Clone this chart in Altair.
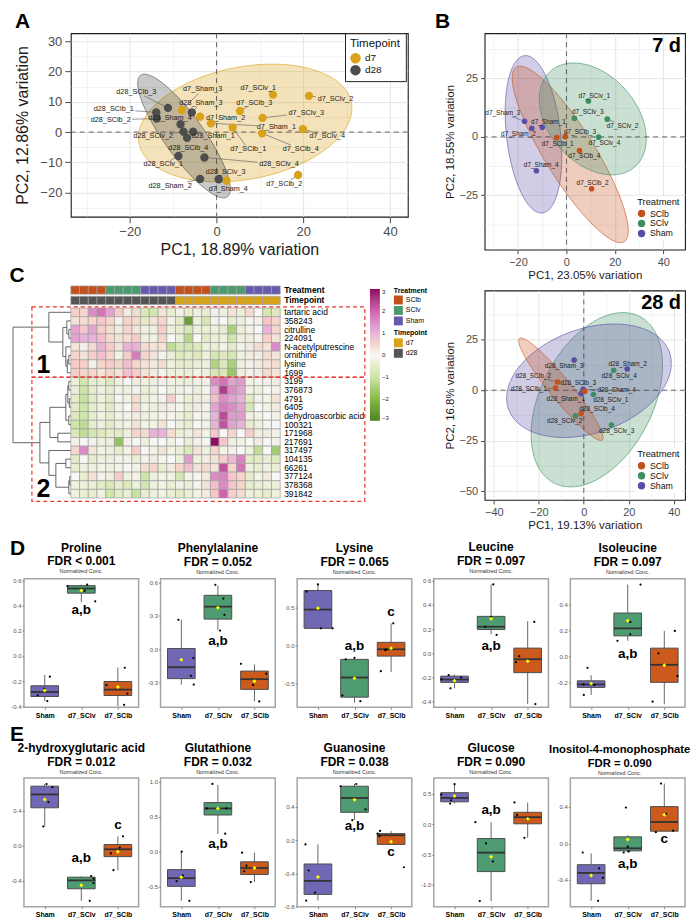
import numpy as np
import pandas as pd
import altair as alt

FONT = "Liberation Sans"

# ------------------------------------------------------------------ colours
TP_DOMAIN = ["d7", "d28"]
TP_COLORS = ["#D9A21B", "#4D4D4D"]
TRT_DOMAIN = ["SClb", "SClv", "Sham"]
TRT_COLORS = ["#C4501C", "#3E8E60", "#5A4DA6"]
TRT_ANNOT = ["#C4501C", "#4A9A6E", "#6659B0"]
TP_ANNOT = ["#D9A21B", "#555555"]

# ------------------------------------------------------------------ panel A (all samples)
A_sample = ["d7_Sham_1", "d7_Sham_2", "d7_Sham_3", "d7_Sham_4",
            "d7_SClv_1", "d7_SClv_2", "d7_SClv_3", "d7_SClv_4",
            "d7_SClb_1", "d7_SClb_2", "d7_SClb_3", "d7_SClb_4",
            "d28_Sham_1", "d28_Sham_2", "d28_Sham_3", "d28_Sham_4",
            "d28_SClv_1", "d28_SClv_2", "d28_SClv_3", "d28_SClv_4",
            "d28_SClb_1", "d28_SClb_2", "d28_SClb_3", "d28_SClb_4"]
A_pc1 = [-1.3, -3.8, -8.0, 2.3, 13.0, 21.3, 10.6, 19.9, 3.7, 18.8, 5.4, 10.5,
         -5.4, -3.8, -5.7, -8.3, -8.8, -7.6, 0.5, -2.8, -13.9, -13.8, -11.2, -6.8]
A_pc2 = [2.9, 5.1, 7.3, -16.1, 12.4, 12.0, 4.7, 1.0, 1.5, -14.2, 7.0, -0.4,
         0.1, -15.5, 6.5, 2.6, -7.9, 0.1, -15.6, -8.4, 6.5, 4.5, 8.0, -1.9]
A_lab_x = [13.8, 2.1, -3.2, 2.7, 9.6, 27.4, 20.7, 25.5, 7.3, 15.6, 8.7, 19.4,
           -0.8, -10.7, -3.6, -10.7, -12.3, -14.6, 2.1, 14.4, -23.7, -24.4, -18.5, -6.5]
A_lab_y = [1.8, 4.5, 14.1, -18.8, 14.6, 10.8, 6.4, -1.3, -5.6, -17.2, 9.7, -5.6,
           -1.3, -17.8, 9.7, 4.5, -10.7, -1.3, -13.1, -10.6, 7.6, 4.0, 13.3, -5.4]
# confidence ellipses: centre and two conjugate semi-axis vectors (data units)
A_ell_grp = ["d7", "d28"]
A_ell_cx = [6.6, -7.5]
A_ell_cy = [3.0, -1.3]
A_ell_u = [(24.1, 1.0), (10.0, -20.1)]
A_ell_v = [(4.95, 19.45), (3.75, 3.83)]

# ------------------------------------------------------------------ panel B, 7 d
B7_sample = ["d7_Sham_1", "d7_Sham_2", "d7_Sham_3", "d7_Sham_4",
             "d7_SClv_1", "d7_SClv_2", "d7_SClv_3", "d7_SClv_4",
             "d7_SClb_1", "d7_SClb_2", "d7_SClb_3", "d7_SClb_4"]
B7_pc1 = [-10.0, -14.3, -17.3, -12.4, 9.1, 16.9, 3.3, 13.3, -4.0, 10.4, -0.5, 5.4]
B7_pc2 = [4.1, 3.7, 6.7, -14.5, 15.4, 7.6, 8.0, -0.1, -0.3, -22.2, 0.1, -5.9]
B7_lab_x = [-7.4, -19.8, -26.3, -10.4, 11.5, 23.2, 8.8, 15.7, -3.6, 10.8, 5.6, 7.4]
B7_lab_y = [6.5, 1.2, 10.1, -12.1, 17.6, 4.8, 10.8, -2.7, -3.1, -19.8, 2.3, -8.1]
B7_ell_grp = ["Sham", "SClb", "SClv"]
B7_ell_cx = [-13.6, 1.6, 10.9]
B7_ell_cy = [1.1, -7.5, 7.7]
B7_ell_u = [(3.7, -33.7), (22.3, -37.4), (22.1, -8.5)]
B7_ell_v = [(11.1, 1.3), (8.8, 5.6), (0.0, 22.4)]

# ------------------------------------------------------------------ panel B, 28 d
B28_sample = ["d28_Sham_1", "d28_Sham_2", "d28_Sham_3", "d28_Sham_4",
              "d28_SClv_1", "d28_SClv_2", "d28_SClv_3", "d28_SClv_4",
              "d28_SClb_1", "d28_SClb_2", "d28_SClb_3", "d28_SClb_4"]
B28_pc1 = [-1.2, 19.3, -4.3, -0.3, 4.3, -3.7, 12.3, 13.3, -12.6, -11.6, 0.4, -1.2]
B28_pc2 = [-1.6, 10.5, 14.9, 0.5, -2.1, -12.7, -17.2, 9.9, 1.1, 4.1, -0.5, -11.5]
B28_lab_x = [-8.0, 19.5, -8.8, 14.6, 12.0, -8.5, 14.6, 15.7, -24.4, -22.5, -2.5, 5.9]
B28_lab_y = [-4.4, 13.1, 12.0, 0.0, -4.6, -15.3, -20.2, 7.0, 0.5, 7.0, 3.6, -9.4]
B28_ell_grp = ["SClv", "Sham", "SClb"]
B28_ell_cx = [5.8, 2.3, -10.2]
B28_ell_cy = [-4.7, 4.7, 0.5]
B28_ell_u = [(29.2, 17.2), (36.6, 8.6), (18.4, -25.1)]
B28_ell_v = [(0.0, 39.5), (0.0, 26.7), (3.7, 3.4)]

# ------------------------------------------------------------------ panel C heatmap
HM_ROWS = ["tartaric acid", "358243", "citrulline", "224091", "N-acetylputrescine",
           "ornithine", "lysine", "1699", "3199", "376873", "4791", "6405",
           "dehydroascorbic acid", "100321", "171968", "217691", "317497", "104135",
           "66261", "377124", "378368", "391842"]
HM_TRT = ["SClb"] * 4 + ["SClv"] * 4 + ["Sham"] * 4 + ["SClb"] * 4 + ["SClv"] * 4 + ["Sham"] * 4
HM_TP = ["d28"] * 12 + ["d7"] * 12
HM_CLUSTER = [1] * 8 + [2] * 14
HM_VALUES = [
    [0.6, 0.5, 1.5, 1.8, 1.2, 0.6, 0.2, 0.4, -0.8, -0.9, 0.3, -0.5, 0.1, -0.5, -0.3, -0.5, 0.1, -0.3, 0.3, -0.4, 0.4, 0.0, -0.9, -0.7],
    [0.3, 0.4, 0.5, 0.7, 0.5, 0.1, 0.5, 0.4, -0.6, 0.3, 0.5, -0.2, -0.6, -2.5, -0.3, -0.8, 0.1, 0.0, -0.5, -0.3, -0.1, 0.1, 0.7, 0.5],
    [1.2, 0.7, 1.2, 0.6, 0.4, 0.2, 0.5, 0.3, -0.3, -0.3, 0.6, -0.3, -0.5, -0.8, -0.3, -0.4, -0.3, -0.5, -1.5, -0.4, 0.1, 0.0, 1.0, 0.5],
    [1.2, 1.0, 1.0, 0.8, 0.4, 0.3, 0.4, 0.6, -0.3, -0.3, 0.5, 0.0, -0.4, -1.3, 0.0, -0.6, -0.4, -0.3, -1.0, -0.3, 0.2, 0.1, 0.6, 0.3],
    [0.3, 0.1, 0.4, 1.0, 0.6, 0.3, 1.0, 1.0, 0.4, 0.3, 0.3, -1.2, -0.8, -0.9, -0.7, -0.3, -0.4, -0.2, -0.6, 0.1, 0.2, 0.4, 0.3, 1.5],
    [0.5, 0.3, 0.6, 0.8, 0.5, -0.2, 0.6, 1.7, 0.5, 0.3, 0.1, -0.4, -0.7, -0.6, -0.7, -0.3, -0.9, -0.7, -0.9, -0.3, 0.2, 0.2, 0.4, 0.3],
    [0.6, 0.6, 0.1, 0.5, 0.6, 0.5, 0.8, 0.5, 0.3, 0.2, 0.4, -0.3, -0.5, -0.5, -0.4, -0.3, -1.4, -0.7, -1.5, -0.3, 0.1, 0.2, 0.3, 0.4],
    [0.6, 0.5, 0.5, 0.3, 0.5, 0.3, 0.8, 0.6, 0.3, 0.2, 0.1, -0.3, -0.3, -0.4, -0.2, -0.3, -0.8, -0.8, -1.7, -0.3, 0.1, 0.2, 0.4, 0.3],
    [-0.4, -0.9, -0.5, -0.4, -0.7, -0.3, 0.0, 0.2, -0.3, -0.3, 0.1, -0.2, -0.3, -0.4, -0.2, 0.1, 1.5, 1.8, 1.2, 1.3, -0.2, -0.1, 0.1, 0.2],
    [-0.4, -1.0, -0.5, -0.3, -0.5, -0.2, -0.3, 0.1, -0.4, -0.3, 0.0, -0.3, -0.2, -0.1, -0.3, -0.1, 1.0, 2.5, 1.5, 1.2, -0.2, -0.3, 0.0, 0.1],
    [-0.6, -1.1, -0.6, -0.3, -0.6, -0.1, -0.2, 0.4, -0.3, -0.2, 0.1, 0.6, -0.1, -0.4, 0.2, -0.3, 0.8, 1.5, 1.2, 1.0, -0.6, 0.1, -0.2, 0.3],
    [-0.6, -1.0, -0.5, -0.3, -0.6, -0.2, 0.0, 0.4, -0.2, -0.3, 0.2, -0.2, -0.1, -0.4, 0.2, 0.1, 1.2, 1.7, 1.5, 1.2, -0.8, 0.0, -0.2, 0.2],
    [-0.7, -1.0, -0.5, -0.2, -0.5, -0.2, 0.1, 0.2, -0.3, -0.2, 0.1, -0.1, -0.3, -0.5, -0.1, 0.1, 1.0, 2.3, 1.3, 1.3, -0.3, -0.2, 0.0, 0.1],
    [-1.0, -1.2, -0.5, -0.3, -0.6, -0.3, -0.2, 0.3, -0.2, -0.2, 0.3, 0.0, -0.3, -0.5, 0.0, -0.2, 1.0, 2.2, 1.2, 1.0, -0.5, -0.3, -0.1, 0.0],
    [-0.8, -1.2, -0.9, -0.7, -0.5, -0.6, -0.3, 0.5, 0.4, 1.0, 1.0, 0.4, -0.4, -0.3, 0.3, -0.2, 0.7, 0.0, 0.5, 0.0, 0.6, -0.3, 0.2, 0.1],
    [0.1, 0.0, 0.1, -0.3, -0.3, -1.8, 0.1, 0.0, -0.3, 0.0, 0.0, -0.2, 0.0, -0.4, 0.1, 0.0, 3.0, 0.7, -0.3, -0.2, 0.0, 0.2, 0.0, 0.1],
    [0.5, 1.5, 0.3, -0.2, -0.3, -0.5, -0.2, 0.6, 0.0, -0.2, 0.3, -0.2, -0.4, -0.7, 0.3, -0.3, 0.5, -0.2, 0.1, 0.0, -0.3, -1.2, 0.0, -1.6],
    [-0.6, 0.0, -0.5, -0.3, -0.3, -0.2, 0.1, -0.4, -0.2, 0.2, -0.1, 0.0, -0.3, 1.3, -0.3, 0.2, 0.3, 0.6, 0.9, 1.6, -0.6, -0.6, -0.4, -0.7],
    [-0.5, -0.3, -0.3, -0.2, -0.3, -0.2, 0.0, -0.2, 0.4, 0.5, -0.5, 0.2, 0.5, 0.8, 0.3, 0.4, 0.3, 2.2, 0.5, 1.8, -0.3, -0.5, -0.3, -0.4],
    [0.0, -0.5, 0.3, 0.1, -0.3, 0.6, -0.3, -0.2, -1.0, -0.3, -0.2, -0.2, -0.9, -0.2, -0.1, 0.2, 1.5, 1.6, 0.7, 0.5, -0.5, -0.2, 0.2, 0.0],
    [-0.3, -0.3, -0.4, -0.6, -0.8, -0.5, -0.7, -0.3, -0.9, -0.3, -0.2, -0.4, -0.2, -0.4, -0.1, 0.3, 0.8, 1.5, 0.7, 0.5, -0.5, -0.4, -0.3, -0.4],
    [-0.3, -0.4, -0.5, -0.2, -1.0, -0.6, -0.4, -1.1, -0.5, -0.3, -0.2, -0.4, -0.6, -0.4, -0.2, 0.2, 0.7, 2.0, 0.6, 0.4, -0.3, -0.4, -0.5, -0.3],
]
# row dendrogram: (left node, right node, merge height in px); new nodes numbered from 22
HM_DEND = [(2, 3, 2), (1, 22, 4), (5, 6, 2), (24, 7, 3.5), (4, 25, 5), (23, 26, 8), (0, 27, 22),
           (8, 9, 2), (10, 11, 1.5), (29, 30, 3), (12, 13, 2), (31, 32, 5), (14, 15, 13), (33, 34, 21),
           (17, 18, 5), (19, 20, 1), (37, 21, 2), (36, 38, 15), (16, 39, 22), (35, 40, 31), (28, 41, 58)]
HM_SCALE_STOPS = [-3, -2, -1, 0, 1, 2, 3]
HM_SCALE_COLORS = ["#4E8420", "#86BA49", "#CDE6A9", "#F7F7F5", "#E8B2D9", "#CF63AE", "#8E0C62"]

# ------------------------------------------------------------------ panels D / E box plots
BOX_GROUPS = ["Sham", "d7_SClv", "d7_SClb"]
BOX_COLORS = ["#7168B5", "#4E9B72", "#CB5A1C"]
BOX_NAMES = ["Proline", "Phenylalanine", "Lysine", "Leucine", "Isoleucine",
             "2-hydroxyglutaric acid", "Glutathione", "Guanosine", "Glucose", "Inositol-4-monophosphate"]
BOX_FDR = ["FDR < 0.001", "FDR = 0.052", "FDR = 0.065", "FDR = 0.097", "FDR = 0.097",
           "FDR = 0.012", "FDR = 0.032", "FDR = 0.038", "FDR = 0.090", "FDR = 0.090"]
# (low whisker, Q1, median, Q3, high whisker, mean) for Sham, d7_SClv, d7_SClb
BOX_STATS = [
    [(-0.36, -0.324, -0.288, -0.238, -0.151, -0.275), (0.43, 0.502, 0.539, 0.562, 0.57, 0.523), (-0.40, -0.316, -0.269, -0.204, -0.092, -0.248)],
    [(-0.318, -0.265, -0.162, 0.006, 0.265, -0.094), (0.171, 0.271, 0.383, 0.485, 0.574, 0.374), (-0.47, -0.362, -0.27, -0.197, -0.138, -0.288)],
    [(0.227, 0.227, 0.473, 0.723, 0.805, 0.49), (-0.75, -0.677, -0.419, -0.181, -0.151, -0.43), (-0.345, -0.138, -0.048, 0.043, 0.292, -0.035)],
    [(-0.29, -0.241, -0.217, -0.189, -0.176, -0.228), (0.157, 0.197, 0.22, 0.306, 0.57, 0.287), (-0.42, -0.16, -0.049, 0.043, 0.266, -0.065)],
    [(-0.297, -0.239, -0.216, -0.188, -0.145, -0.208), (0.122, 0.16, 0.218, 0.337, 0.557, 0.278), (-0.37, -0.2, -0.064, 0.065, 0.198, -0.068)],
    [(0.219, 0.434, 0.587, 0.682, 0.706, 0.53), (-0.634, -0.496, -0.4, -0.363, -0.353, -0.456), (-0.282, -0.127, -0.042, 0.012, 0.106, -0.071)],
    [(-0.702, -0.496, -0.379, -0.257, 0.0, -0.365), (0.253, 0.524, 0.618, 0.702, 0.955, 0.618), (-0.435, -0.327, -0.234, -0.145, -0.014, -0.234)],
    [(-0.726, -0.652, -0.49, -0.287, -0.052, -0.444), (0.242, 0.334, 0.506, 0.647, 0.674, 0.486), (-0.052, -0.052, 0.059, 0.078, 0.11, -0.02)],
    [(0.34, 0.368, 0.433, 0.519, 0.66, 0.465), (-1.27, -0.784, -0.471, -0.238, 0.032, -0.541), (-0.227, 0.005, 0.114, 0.195, 0.357, 0.086)],
    [(-0.63, -0.443, -0.324, -0.234, -0.111, -0.353), (-0.1, -0.082, -0.054, 0.072, 0.09, 0.043), (0.134, 0.134, 0.235, 0.404, 0.657, 0.314)],
]
BOX_POINTS = [
    [[-0.165, -0.26, -0.314, -0.36], [0.559, 0.57, 0.52, 0.437], [-0.094, -0.233, -0.30, -0.39]],
    [[0.265, -0.08, -0.24, -0.318], [0.58, 0.456, 0.309, 0.168], [-0.132, -0.22, -0.322, -0.47]],
    [[0.805, 0.71, 0.227, 0.227], [-0.18, -0.16, -0.655, -0.73], [0.292, -0.06, -0.05, -0.336]],
    [[-0.18, -0.29, -0.2, -0.215], [0.57, 0.22, 0.152, 0.30], [0.26, -0.024, -0.073, -0.42]],
    [[-0.087, -0.216, -0.22, -0.297], [0.557, 0.268, 0.172, 0.122], [0.198, 0.025, -0.15, -0.35]],
    [[0.706, 0.67, 0.5, 0.219], [-0.35, -0.38, -0.43, -0.634], [0.106, -0.023, -0.09, -0.282]],
    [[0.0, -0.34, -0.42, -0.702], [0.969, 0.618, 0.62, 0.257], [-0.014, -0.2, -0.28, -0.435]],
    [[-0.052, -0.365, -0.632, -0.726], [0.647, 0.674, 0.368, 0.24], [0.11, 0.078, 0.047, -0.326]],
    [[0.66, 0.487, 0.394, 0.34], [0.032, -0.32, -0.617, -1.27], [0.357, 0.151, 0.07, -0.227]],
    [[-0.1, -0.273, -0.378, -0.63], [0.393, -0.036, -0.1, -0.088], [0.657, 0.324, 0.123, 0.14]],
]
BOX_JITTER = [
    [[0.14, -0.01, -0.19, 0.07], [-0.38, 0.16, 0.09, 0.38], [0.19, -0.31, 0.26, 0.17]],
    [[-0.08, 0.33, 0.26, 0.34], [-0.07, 0.15, 0.18, 0.06], [-0.37, 0.32, -0.04, 0.13]],
    [[0.0, -0.31, 0.08, 0.4], [-0.24, 0.0, -0.33, 0.16], [0.06, -0.16, -0.13, -0.28]],
    [[-0.16, -0.11, 0.18, -0.36], [0.06, -0.16, 0.15, 0.0], [0.18, -0.23, -0.32, 0.21]],
    [[-0.1, -0.21, 0.09, -0.2], [0.35, 0.07, 0.07, -0.28], [0.29, -0.16, 0.36, -0.32]],
    [[0.05, 0.21, 0.1, -0.04], [0.27, 0.34, 0.33, 0.23], [0.14, 0.05, -0.19, -0.12]],
    [[0.01, 0.04, -0.13, 0.22], [-0.15, -0.3, 0.23, 0.2], [-0.34, -0.22, -0.28, -0.1]],
    [[-0.34, -0.25, -0.08, -0.32], [-0.38, 0.05, 0.3, -0.06], [-0.3, -0.37, -0.32, 0.35]],
    [[0.0, -0.36, -0.09, -0.12], [-0.43, -0.14, 0.05, -0.31], [-0.36, -0.29, -0.02, -0.09]],
    [[-0.23, 0.22, 0.32, 0.19], [-0.05, 0.0, -0.11, 0.03], [-0.09, 0.05, -0.23, 0.24]],
]
BOX_LETTERS = [
    [(1, "a,b", 0.369)], [(1, "a,b", 0.077)], [(1, "a,b", -0.01), (2, "c", 0.443)],
    [(1, "a,b", 0.057)], [(1, "a,b", 0.02)], [(1, "a,b", -0.139), (2, "c", 0.237)],
    [(1, "a,b", 0.103)], [(1, "a,b", 0.165), (2, "c", -0.138)], [(1, "a,b", 0.232)],
    [(1, "a,b", -0.227), (2, "c", 0.043)],
]
BOX_YDOM = [(-0.41, 0.618), (-0.523, 0.635), (-0.81, 0.879), (-0.447, 0.618), (-0.393, 0.603),
            (-0.702, 0.775), (-0.787, 1.052), (-0.8, 0.745), (-1.364, 0.76), (-0.695, 0.717)]
BOX_YTICKS = [[-0.4, -0.2, 0.0, 0.2, 0.4, 0.6], [-0.3, 0.0, 0.3, 0.6], [-0.5, 0.0, 0.5],
              [-0.4, -0.2, 0.0, 0.2, 0.4, 0.6], [-0.2, 0.0, 0.2, 0.4], [-0.4, 0.0, 0.4],
              [-0.5, 0.0, 0.5, 1.0], [-0.8, -0.4, 0.0, 0.4], [-1.0, -0.5, 0.0, 0.5], [-0.4, 0.0, 0.4]]
BOX_TITLE_FS = [12, 12, 12, 12, 12, 12, 12, 12, 12, 11.3]
BOX_TITLE_DX = [0, 0, 0, 0, 0, 0, 0, 0, 0, -8]

# ------------------------------------------------------------------ layout (px)
A_W, A_H = 338, 184
B_W, B7_H, B28_H = 201, 217, 210
C_COLW, C_ROWH = 8.75, 8.663
C_XDOM = (0.0, 34.0)
C_YDOM = (-2.6, 22.45)
P_W, P_H, P_SP = 115, 129, 22
BOX_HALF = 0.378
W_SPACER_TOP, W_SPACER_D, W_SPACER_E = 1, 1, 1
RES = dict(color="independent", fill="independent", stroke="independent")


# ================================================================== helpers
def ellipse_frame(groups, cxs, cys, us, vs, n=160):
    frames = []
    for g, cx, cy, (ux, uy), (vx, vy) in zip(groups, cxs, cys, us, vs):
        rx = np.hypot(ux, vx)
        phi = np.arctan2(vx, ux)
        s = np.linspace(0.0, np.pi, n)
        frames.append(pd.DataFrame({
            "egrp": g,
            "ex": cx + rx * np.cos(s),
            "ey1": cy + uy * np.cos(s + phi) + vy * np.sin(s + phi),
            "ey2": cy + uy * np.cos(phi - s) + vy * np.sin(phi - s)}))
    return pd.concat(frames, ignore_index=True)


def leader_frame(pts, sx, sy, cw, hh, minlen=4.0, r=3.0):
    rows = []
    for _, d in pts.iterrows():
        dxp = (d.px - d.lx) * sx
        dyp = (d.py - d.ly) * sy
        L = np.hypot(dxp, dyp)
        if L < 1e-6:
            continue
        hw = len(d["sample"]) * cw / 2 + 1.5
        tx = hw / abs(dxp) if abs(dxp) > 1e-9 else np.inf
        ty = hh / abs(dyp) if abs(dyp) > 1e-9 else np.inf
        t = min(tx, ty)
        if t >= 1 or L * (1 - t) - r < minlen:
            continue
        fe = 1 - r / L
        rows.append({"x": d.lx + t * (d.px - d.lx), "y": d.ly + t * (d.py - d.ly),
                     "x2": d.lx + fe * (d.px - d.lx), "y2": d.ly + fe * (d.py - d.ly)})
    return pd.DataFrame(rows, columns=["x", "y", "x2", "y2"])


def pc_axis(vals, maj, title, tick_fs, title_fs, tpad, tick=5, lpad=3):
    cond = f"abs(datum.value % {maj}) < 1e-6"
    return alt.Axis(values=vals, title=title, grid=True,
                    labelExpr=f"({cond}) ? datum.label : ''",
                    tickOpacity={"condition": {"test": cond, "value": 1}, "value": 0},
                    gridWidth={"condition": {"test": cond, "value": 0.9}, "value": 0.45},
                    gridColor="#E2E2E2", domain=False, tickColor="#333333", tickSize=tick,
                    tickWidth=0.9, labelFontSize=tick_fs, labelColor="#4D4D4D",
                    labelPadding=lpad, labelFlush=False, labelOverlap=False,
                    titleFontSize=title_fs, titleFontWeight="normal", titleColor="#1A1A1A",
                    titlePadding=tpad)


def pca_panel(samples, pc1, pc2, labx, laby, grp_of, cdom, ccol, ell, *, W, H, xdom, ydom,
              xvals, yvals, xmaj, ymaj, xtitle, ytitle, tick_fs, title_fs, lab_fs, pt_size,
              ell_op, legend, ltitle, sx, sy, cw, hh, tpx, tpy, tick, lpad, title=None, tag=None):
    pts = pd.DataFrame({"sample": samples, "px": pc1, "py": pc2, "lx": labx, "ly": laby})
    pts["grp"] = [grp_of(s) for s in samples]
    sc_x = alt.Scale(domain=list(xdom), nice=False, zero=False)
    sc_y = alt.Scale(domain=list(ydom), nice=False, zero=False)
    xax = pc_axis(xvals, xmaj, xtitle, tick_fs, title_fs, tpx, tick, lpad)
    yax = pc_axis(yvals, ymaj, ytitle, tick_fs, title_fs, tpy, tick, lpad)

    def X(f):
        return alt.X(f, type="quantitative", scale=sc_x, axis=xax)

    def Y(f):
        return alt.Y(f, type="quantitative", scale=sc_y, axis=yax, stack=None)

    ell_l = alt.Chart(ell).mark_area(strokeWidth=0.7, fillOpacity=ell_op, strokeOpacity=0.9).encode(
        x=X("ex"), y=Y("ey1"), y2=alt.Y2("ey2"),
        fill=alt.Fill("egrp:N", scale=alt.Scale(domain=cdom, range=ccol), legend=None),
        stroke=alt.Stroke("egrp:N", scale=alt.Scale(domain=cdom, range=ccol), legend=None))
    zero = pd.DataFrame({"z": [0.0]})
    vline = alt.Chart(zero).mark_rule(strokeDash=[5, 4], color="#444444", strokeWidth=0.8).encode(x=X("z"))
    hline = alt.Chart(zero).mark_rule(strokeDash=[5, 4], color="#444444", strokeWidth=0.8).encode(y=Y("z"))
    lead = leader_frame(pts, sx, sy, cw, hh)
    lead_l = alt.Chart(lead).mark_rule(color="#555555", strokeWidth=0.6).encode(
        x=X("x"), y=Y("y"), x2=alt.X2("x2"), y2=alt.Y2("y2"))
    pt_l = alt.Chart(pts).mark_circle(size=pt_size, opacity=1).encode(
        x=X("px"), y=Y("py"),
        color=alt.Color("grp:N", scale=alt.Scale(domain=cdom, range=ccol), legend=legend, title=ltitle))
    lab_l = alt.Chart(pts).mark_text(fontSize=lab_fs, color="#1A1A1A").encode(
        x=X("lx"), y=Y("ly"), text="sample:N")
    layers = [ell_l, vline, hline, lead_l, pt_l, lab_l]
    if tag is not None:
        layers.append(alt.Chart(pd.DataFrame({"t": [tag]})).mark_text(
            fontSize=20, fontWeight="bold", align="right", baseline="top", color="black").encode(
            x=alt.value(W - 4), y=alt.value(3), text="t:N"))
    props = dict(width=W, height=H, view=alt.ViewBackground(stroke="#1A1A1A", strokeWidth=1.1))
    if title is not None:
        props["title"] = title
    return alt.layer(*layers).resolve_scale(**RES).properties(**props)


def spacer(w):
    return alt.Chart(pd.DataFrame({"s": [0]})).mark_rule(opacity=0).encode(
        x=alt.value(0), x2=alt.value(w), y=alt.value(0)
    ).properties(width=w, height=1, view=alt.ViewBackground(strokeOpacity=0))


# ================================================================== panel A
ellA = ellipse_frame(A_ell_grp, A_ell_cx, A_ell_cy, A_ell_u, A_ell_v)
chartA = pca_panel(
    A_sample, A_pc1, A_pc2, A_lab_x, A_lab_y, lambda s: s.split("_")[0], TP_DOMAIN, TP_COLORS, ellA,
    W=A_W, H=A_H, xdom=(-33.6, 44.1), ydom=(-28.0, 32.7),
    xvals=[-30, -20, -10, 0, 10, 20, 30, 40], yvals=[-25, -20, -15, -10, -5, 0, 5, 10, 15, 20, 25, 30],
    xmaj=20, ymaj=10, xtitle="PC1, 18.89% variation", ytitle="PC2, 12.86% variation",
    tick_fs=13, title_fs=16, lab_fs=7.3, pt_size=70, ell_op=0.3,
    legend=alt.Legend(orient="none", legendX=275, legendY=0, fillColor="white", strokeColor="#222222",
                      padding=5, titleFontSize=11.5, titleFontWeight="normal", labelFontSize=10,
                      symbolSize=110, symbolType="circle", symbolStrokeWidth=0, rowPadding=1,
                      titlePadding=3, titleColor="#111111", labelColor="#111111"),
    ltitle="Timepoint", sx=4.35, sy=3.03, cw=4.0, hh=4.0, tpx=3, tpy=9, tick=6, lpad=3,
    title=alt.TitleParams("A", anchor="start", fontSize=21, fontWeight="bold", offset=1, color="black"))

# ================================================================== panel B
b_legend = dict(orient="none", fillColor="white", padding=2,
                titleFontSize=9.4, titleFontWeight="normal", labelFontSize=8.8, symbolSize=55,
                symbolType="circle", symbolStrokeWidth=0, rowPadding=0, titlePadding=2,
                titleColor="#111111", labelColor="#111111")
ellB7 = ellipse_frame(B7_ell_grp, B7_ell_cx, B7_ell_cy, B7_ell_u, B7_ell_v)
chartB7 = pca_panel(
    B7_sample, B7_pc1, B7_pc2, B7_lab_x, B7_lab_y, lambda s: s.split("_")[1], TRT_DOMAIN, TRT_COLORS, ellB7,
    W=B_W, H=B7_H, xdom=(-33.8, 49.0), ydom=(-48.3, 44.4),
    xvals=[-30, -20, -10, 0, 10, 20, 30, 40], yvals=[-37.5, -25, -12.5, 0, 12.5, 25, 37.5],
    xmaj=20, ymaj=25, xtitle="PC1, 23.05% variation", ytitle="PC2, 18.55% variation",
    tick_fs=11, title_fs=11.5, lab_fs=6.5, pt_size=32, ell_op=0.28,
    legend=alt.Legend(legendX=151, legendY=163, **b_legend), ltitle="Treatment",
    sx=2.425, sy=2.34, cw=3.6, hh=3.5, tpx=2, tpy=4, tick=4, lpad=3,
    title=alt.TitleParams("B", anchor="start", fontSize=21, fontWeight="bold", offset=1, dx=-9,
                          color="black"),
    tag="7 d")
ellB28 = ellipse_frame(B28_ell_grp, B28_ell_cx, B28_ell_cy, B28_ell_u, B28_ell_v)
chartB28 = pca_panel(
    B28_sample, B28_pc1, B28_pc2, B28_lab_x, B28_lab_y, lambda s: s.split("_")[1], TRT_DOMAIN, TRT_COLORS,
    ellB28, W=B_W, H=B28_H, xdom=(-44.1, 45.0), ydom=(-54.2, 49.3),
    xvals=[-40, -30, -20, -10, 0, 10, 20, 30, 40], yvals=[-50, -37.5, -25, -12.5, 0, 12.5, 25, 37.5],
    xmaj=20, ymaj=25, xtitle="PC1, 19.13% variation", ytitle="PC2, 16.8% variation",
    tick_fs=11, title_fs=11.5, lab_fs=6.5, pt_size=32, ell_op=0.28,
    legend=alt.Legend(legendX=151, legendY=158, **b_legend), ltitle="Treatment",
    sx=2.28, sy=2.03, cw=3.6, hh=3.5, tpx=2, tpy=4, tick=4, lpad=3, tag="28 d")

# ================================================================== panel C
n_rows, n_cols = len(HM_ROWS), len(HM_TRT)
hm = pd.DataFrame([{"c0": c, "c1": c + 1, "r0": r, "r1": r + 1, "value": HM_VALUES[r][c]}
                   for r in range(n_rows) for c in range(n_cols)])
ann = pd.DataFrame({"c0": range(n_cols), "c1": [c + 1 for c in range(n_cols)],
                    "Treatment": HM_TRT, "Timepoint": HM_TP})
ANN_Y = {"Treatment": (-2.55, -1.6), "Timepoint": (-1.35, -0.4)}
ann["t0"], ann["t1"] = ANN_Y["Treatment"]
ann["p0"], ann["p1"] = ANN_Y["Timepoint"]

# dendrogram segments from merge table
ypos = {i: i + 0.5 for i in range(n_rows)}
hpos = {i: 0.0 for i in range(n_rows)}
segs = []
nid = n_rows
for a, b, h in HM_DEND:
    xa, xb, xh = -hpos[a] / C_COLW, -hpos[b] / C_COLW, -h / C_COLW
    segs += [(xa, ypos[a], xh, ypos[a]), (xb, ypos[b], xh, ypos[b]), (xh, ypos[a], xh, ypos[b])]
    ypos[nid] = (ypos[a] + ypos[b]) / 2
    hpos[nid] = h
    nid += 1
dend = pd.DataFrame(segs, columns=["x", "y", "x2", "y2"])

# cluster boxes from cluster membership
BOX_X = (-4.46, 33.7)
cl_rows = []
clusters = sorted(set(HM_CLUSTER))
for k, cl in enumerate(clusters):
    rows = [i for i, v in enumerate(HM_CLUSTER) if v == cl]
    y0 = rows[0] - (0.12 if k == 0 else 0.0)
    y1 = rows[-1] + 1 + (0.38 if k == len(clusters) - 1 else 0.02)
    cl_rows.append({"x0": BOX_X[0], "x1": BOX_X[1], "y0": y0, "y1": y1, "lab": str(cl),
                    "lx": BOX_X[0] + 1.32, "ly": y1 - 0.55})
clb = pd.DataFrame(cl_rows)

cxs = alt.Scale(domain=list(C_XDOM), nice=False, zero=False)
cys = alt.Scale(domain=list(C_YDOM), nice=False, zero=False, reverse=True)


def CX(f):
    return alt.X(f, type="quantitative", scale=cxs, axis=None)


def CY(f):
    return alt.Y(f, type="quantitative", scale=cys, axis=None)


heat = alt.Chart(hm).mark_rect(stroke="#A0A0A0", strokeWidth=0.7).encode(
    x=CX("c0"), x2="c1", y=CY("r0"), y2="r1",
    color=alt.Color("value:Q", scale=alt.Scale(domain=HM_SCALE_STOPS, range=HM_SCALE_COLORS),
                    legend=alt.Legend(orient="none", legendX=300, legendY=3.5, title=None,
                                      direction="vertical", gradientLength=132, gradientThickness=10,
                                      values=HM_SCALE_STOPS, labelFontSize=6, gradientStrokeWidth=0,
                                      labelColor="#222222")))
ann_trt = alt.Chart(ann).mark_rect(stroke="#A0A0A0", strokeWidth=0.7).encode(
    x=CX("c0"), x2="c1", y=CY("t0"), y2="t1",
    color=alt.Color("Treatment:N", scale=alt.Scale(domain=TRT_DOMAIN, range=TRT_ANNOT),
                    legend=alt.Legend(orient="none", legendX=324, legendY=1, title="Treatment",
                                      titleFontSize=7, titleFontWeight="bold", labelFontSize=7,
                                      symbolType="square", symbolSize=80, symbolStrokeWidth=0,
                                      rowPadding=1.5, titlePadding=2, labelOffset=3)))
ann_tp = alt.Chart(ann).mark_rect(stroke="#A0A0A0", strokeWidth=0.7).encode(
    x=CX("c0"), x2="c1", y=CY("p0"), y2="p1",
    color=alt.Color("Timepoint:N", scale=alt.Scale(domain=TP_DOMAIN, range=TP_ANNOT),
                    legend=alt.Legend(orient="none", legendX=324, legendY=44, title="Timepoint",
                                      titleFontSize=7, titleFontWeight="bold", labelFontSize=7,
                                      symbolType="square", symbolSize=80, symbolStrokeWidth=0,
                                      rowPadding=1.5, titlePadding=2, labelOffset=3)))
ann_lab = alt.Chart(pd.DataFrame({"t": ["Treatment", "Timepoint"],
                                  "y": [sum(ANN_Y["Treatment"]) / 2, sum(ANN_Y["Timepoint"]) / 2],
                                  "x": [n_cols + 0.45] * 2})).mark_text(
    fontSize=8.5, fontWeight="bold", align="left", baseline="middle", color="black").encode(
    x=CX("x"), y=CY("y"), text="t:N")
row_lab = alt.Chart(pd.DataFrame({"t": HM_ROWS, "y": [i + 0.5 for i in range(n_rows)],
                                  "x": [n_cols + 0.45] * n_rows})).mark_text(
    fontSize=8.5, align="left", baseline="middle", color="black").encode(
    x=CX("x"), y=CY("y"), text="t:N")
dend_l = alt.Chart(dend).mark_rule(color="#555555", strokeWidth=0.9).encode(
    x=CX("x"), x2="x2", y=CY("y"), y2="y2")
clbox = alt.Chart(clb).mark_rect(fillOpacity=0, stroke="#E8352E", strokeDash=[4, 3], strokeWidth=1.2).encode(
    x=CX("x0"), x2="x1", y=CY("y0"), y2="y1")
cllab = alt.Chart(clb).mark_text(fontSize=25, fontWeight="bold", align="center", baseline="alphabetic",
                                 color="black").encode(x=CX("lx"), y=CY("ly"), text="lab:N")

chartC = alt.layer(heat, ann_trt, ann_tp, ann_lab, row_lab, dend_l, clbox, cllab).resolve_scale(
    color="independent").properties(
    width=(C_XDOM[1] - C_XDOM[0]) * C_COLW, height=(C_YDOM[1] - C_YDOM[0]) * C_ROWH,
    view=alt.ViewBackground(strokeOpacity=0),
    title=alt.TitleParams("C", anchor="start", fontSize=21, fontWeight="bold", offset=0, dx=-3,
                          color="black"))


# ================================================================== panels D / E
def box_panel(k):
    sd = pd.DataFrame(BOX_STATS[k], columns=["lo", "q1", "med", "q3", "hi", "mean"])
    sd["g"] = BOX_GROUPS
    sd["pos"] = [0, 1, 2]
    sd["xl"] = sd["pos"] - BOX_HALF
    sd["xr"] = sd["pos"] + BOX_HALF
    pts = pd.DataFrame([{"g": BOX_GROUPS[i], "val": v, "px": i + j}
                        for i in range(3) for v, j in zip(BOX_POINTS[k][i], BOX_JITTER[k][i])])
    lt = pd.DataFrame([{"pos": i, "txt": t, "ly": y} for i, t, y in BOX_LETTERS[k]])
    xs = alt.Scale(domain=[-0.568, 2.567], nice=False, zero=False)
    ys = alt.Scale(domain=list(BOX_YDOM[k]), nice=False, zero=False)
    lab_expr = "[" + ",".join(f"'{g}'" for g in BOX_GROUPS) + "][datum.value]"
    xax = alt.Axis(values=[0, 1, 2], labelExpr=lab_expr, grid=False, domain=False, title=None,
                   labelFontSize=7, labelFontWeight="bold", labelColor="black", tickSize=2,
                   tickColor="#888888", labelPadding=2, labelFlush=False)
    yax = alt.Axis(values=BOX_YTICKS[k], format=".1f", labelExpr="replace(datum.label, '\u2212', '-')",
                   grid=False, domain=False, title=None, labelFontSize=6, labelColor="#555555",
                   tickSize=2, tickColor="#888888", labelPadding=1, labelFlush=False)

    def X(f):
        return alt.X(f, type="quantitative", scale=xs, axis=xax)

    def Y(f):
        return alt.Y(f, type="quantitative", scale=ys, axis=yax)

    whisk = alt.Chart(sd).mark_rule(color="#555555", strokeWidth=0.9).encode(x=X("pos"), y=Y("lo"), y2="hi")
    box = alt.Chart(sd).mark_rect(stroke="#4D4D4D", strokeWidth=1).encode(
        x=X("xl"), x2="xr", y=Y("q1"), y2="q3",
        fill=alt.Fill("g:N", scale=alt.Scale(domain=BOX_GROUPS, range=BOX_COLORS), legend=None))
    med = alt.Chart(sd).mark_rule(color="#333333", strokeWidth=1.8).encode(x=X("xl"), x2="xr", y=Y("med"))
    dots = alt.Chart(pts).mark_circle(color="black", size=5, opacity=1).encode(x=X("px"), y=Y("val"))
    means = alt.Chart(sd).mark_point(shape="diamond", filled=True, color="#FFFF00", size=16,
                                     opacity=1).encode(x=X("pos"), y=Y("mean"))
    lets = alt.Chart(lt).mark_text(fontSize=13.5, fontWeight="bold", color="black").encode(
        x=X("pos"), y=Y("ly"), text="txt:N")
    return alt.layer(whisk, box, med, dots, means, lets).properties(
        width=P_W, height=P_H,
        view=alt.ViewBackground(stroke="#A5A5A5", strokeWidth=1.5),
        title=alt.TitleParams(text=[BOX_NAMES[k], BOX_FDR[k]], subtitle=["Normalized Conc."],
                              fontSize=BOX_TITLE_FS[k], fontWeight="bold", lineHeight=14,
                              subtitleFontSize=5.5, subtitleColor="#333333", subtitlePadding=1,
                              offset=2, anchor="middle", frame="group", color="black",
                              dx=BOX_TITLE_DX[k]))


def panel_row(ks, letter, wsp, letter_offset):
    inner = alt.hconcat(*[box_panel(k) for k in ks], spacing=P_SP, bounds="flush").properties(
        title=alt.TitleParams(letter, anchor="start", fontSize=21, fontWeight="bold",
                              offset=letter_offset, color="black")).resolve_scale(**RES)
    return alt.hconcat(spacer(wsp), inner, spacing=0).resolve_scale(**RES)


left_col = alt.vconcat(chartA, chartC, spacing=6).resolve_scale(**RES)
right_col = alt.vconcat(chartB7, chartB28, spacing=7).resolve_scale(**RES)
inner_top = alt.hconcat(left_col, right_col, spacing=6).resolve_scale(**RES)
top = alt.hconcat(spacer(W_SPACER_TOP), inner_top, spacing=0).resolve_scale(**RES)
rowD = panel_row([0, 1, 2, 3, 4], "D", W_SPACER_D, -18)
rowE = panel_row([5, 6, 7, 8, 9], "E", W_SPACER_E, -4)

chart = alt.vconcat(top, rowD, rowE, spacing=4).resolve_scale(**RES).properties(
    padding=0).configure(font=FONT).configure_title(font=FONT).configure_axis(
    labelFont=FONT, titleFont=FONT).configure_legend(labelFont=FONT, titleFont=FONT)

chart.save("out.html", embed_options={"renderer": "svg", "actions": False})
